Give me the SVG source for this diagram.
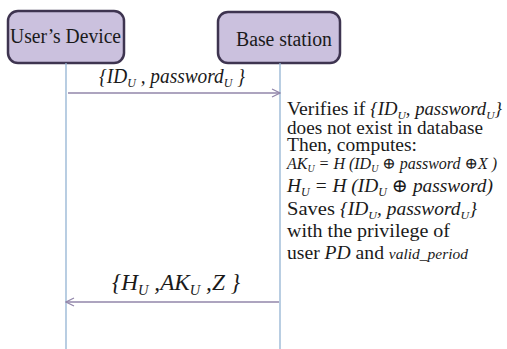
<svg xmlns="http://www.w3.org/2000/svg" width="507" height="349" viewBox="0 0 507 349">
  <defs>
    <style>
      .actor { fill: #cbc1de; stroke: #3e3450; stroke-width: 2.5; }
      .actor-label { font-size: 20px; fill: #1a1a1a; }
      .lifeline { stroke: #93b3d3; stroke-width: 1.3; fill: none; }
      .msg { stroke: #9286aa; stroke-width: 1.3; fill: none; }
      .t { fill: #1a1a1a; }
      .n { font-size: 19px; }
      .m { font-style: italic; }
      .sub { font-size: 0.62em; }
    </style>
    <marker id="open-arrow" viewBox="0 0 10 10" refX="9" refY="5" markerWidth="10" markerHeight="10" markerUnits="userSpaceOnUse" orient="auto-start-reverse">
      <path d="M1,1 L9,5 L1,9" fill="none" stroke="#9286aa" stroke-width="1.2"/>
    </marker>
  </defs>
  <rect width="507" height="349" fill="#ffffff"/>

  <g style="font-family:'Liberation Serif', 'DejaVu Serif', serif">
    <g id="users-device">
      <rect class="actor" x="8" y="11" width="116" height="52" rx="10" ry="10"/>
      <text class="actor-label" x="10" y="43" textLength="111" lengthAdjust="spacingAndGlyphs">User’s Device</text>
    </g>

    <g id="base-station">
      <rect class="actor" x="218" y="12" width="122" height="51" rx="10" ry="10"/>
      <text class="actor-label" x="236" y="46" textLength="96" lengthAdjust="spacingAndGlyphs">Base station</text>
    </g>

    <g id="connectors">
      <line class="lifeline" x1="66" y1="63" x2="66" y2="349"/>
      <line class="lifeline" x1="280" y1="63" x2="280" y2="349"/>
      <line class="msg" x1="68" y1="93" x2="280" y2="93" marker-end="url(#open-arrow)"/>
      <line class="msg" x1="279" y1="302" x2="66" y2="302" marker-end="url(#open-arrow)"/>
    </g>

    <g id="message-labels">
      <text class="t m" x="99" y="83" font-size="20" textLength="146" lengthAdjust="spacingAndGlyphs">{ID<tspan class="sub" dy="4">U</tspan><tspan dy="-4"> , password</tspan><tspan class="sub" dy="4">U</tspan><tspan dy="-4"> }</tspan></text>
      <text class="t m" x="112" y="290" font-size="23" textLength="128" lengthAdjust="spacingAndGlyphs">{H<tspan class="sub" dy="5">U</tspan><tspan dy="-5"> ,AK</tspan><tspan class="sub" dy="5">U</tspan><tspan dy="-5"> ,Z }</tspan></text>
    </g>

    <g id="base-station-steps">
      <text class="t n" x="287" y="115" textLength="215" lengthAdjust="spacingAndGlyphs">Verifies if <tspan class="m" font-size="18">{ID<tspan class="sub" dy="4">U</tspan><tspan dy="-4">, password</tspan><tspan class="sub" dy="4">U</tspan><tspan dy="-4">}</tspan></tspan></text>
      <text class="t n" x="287" y="134" textLength="196" lengthAdjust="spacingAndGlyphs">does not exist in database</text>
      <text class="t n" x="287" y="151" textLength="130" lengthAdjust="spacingAndGlyphs">Then, computes:</text>
      <text class="t m" x="287" y="169" font-size="16" textLength="210" lengthAdjust="spacingAndGlyphs">AK<tspan class="sub" dy="3">U</tspan><tspan dy="-3"> = H  (ID</tspan><tspan class="sub" dy="3">U</tspan><tspan dy="-3"> ⊕ password ⊕X )</tspan></text>
      <text class="t m" x="287" y="192" font-size="19" textLength="206" lengthAdjust="spacingAndGlyphs">H<tspan class="sub" dy="4">U</tspan><tspan dy="-4"> = H  (ID</tspan><tspan class="sub" dy="4">U</tspan><tspan dy="-4"> ⊕ password)</tspan></text>
      <text class="t n" x="287" y="215" textLength="190" lengthAdjust="spacingAndGlyphs">Saves  <tspan class="m" font-size="18">{ID<tspan class="sub" dy="4">U</tspan><tspan dy="-4">, password</tspan><tspan class="sub" dy="4">U</tspan><tspan dy="-4">}</tspan></tspan></text>
      <text class="t n" x="287" y="237" textLength="163" lengthAdjust="spacingAndGlyphs">with the privilege  of</text>
      <text class="t n" x="287" y="259" textLength="181" lengthAdjust="spacingAndGlyphs">user <tspan class="m">PD</tspan> and <tspan class="m" font-size="15">valid_period</tspan></text>
    </g>
  </g>
</svg>
